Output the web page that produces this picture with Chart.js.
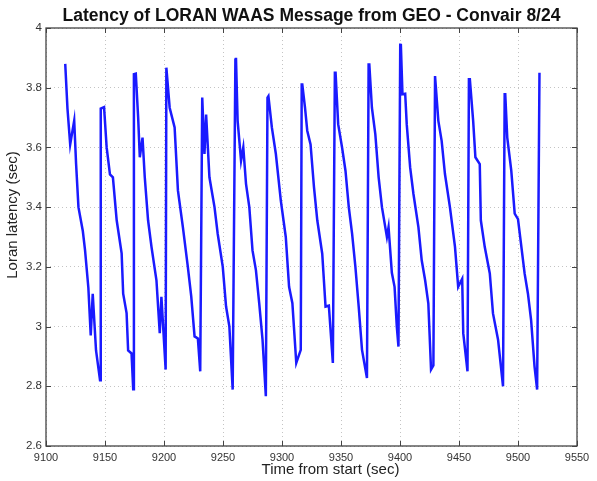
<!DOCTYPE html>
<html>
<head>
<meta charset="utf-8">
<script src="https://cdn.jsdelivr.net/npm/chart.js@4.4.1/dist/chart.umd.min.js"></script>
<style>
  html, body { margin: 0; padding: 0; background: #fff; }
  #wrap { width: 597px; height: 481px; }
</style>
</head>
<body>
<div id="wrap"><canvas id="latencyChart" width="597" height="481"></canvas></div>
<script>
// time from start (sec) and Loran latency (sec)
const times = [
  9116.3, 9118.2, 9120.5, 9123.9, 9125.5, 9127.5, 9131.2, 9133.1, 9135.9, 9137.9, 9139.6, 9142.4, 9145.8,
  9146.4, 9149.2, 9151.4, 9154.2, 9156.7, 9159.9, 9164.1, 9165.4, 9168.3, 9169.6, 9172.5, 9173.9,
  9174.5, 9176.1, 9178.1, 9179.5, 9181.8, 9183.7, 9186.5, 9189.4, 9193.6, 9196.4, 9197.8, 9201.4,
  9202.0, 9202.5, 9204.8, 9209.0, 9211.8, 9216.0, 9220.2, 9223.1, 9225.9, 9228.7, 9230.7,
  9232.4, 9232.9, 9234.3, 9235.7, 9238.5, 9242.8, 9245.5, 9249.8, 9252.6, 9255.4, 9258.2,
  9260.5, 9261.0, 9262.4, 9265.3, 9267.2, 9269.5, 9272.3, 9275.0, 9277.9, 9280.7, 9283.5, 9286.3,
  9287.7, 9288.5, 9291.4, 9294.8, 9299.0, 9303.2, 9306.0, 9308.8, 9312.1, 9315.9,
  9316.7, 9317.2, 9319.5, 9321.4, 9324.2, 9327.1, 9329.9, 9334.1, 9336.9, 9339.7, 9343.1,
  9344.8, 9345.4, 9347.6, 9350.9, 9353.8, 9356.6, 9359.4, 9362.2, 9365.0, 9367.8, 9372.0,
  9373.4, 9374.0, 9376.2, 9379.1, 9381.9, 9384.7, 9388.9, 9390.3, 9393.1, 9395.4, 9397.3, 9398.7,
  9400.2, 9400.7, 9402.1, 9404.4, 9405.7, 9408.6, 9411.4, 9415.6, 9418.4, 9421.3, 9424.0, 9426.3, 9428.3,
  9429.7, 9430.2, 9432.5, 9435.3, 9438.1, 9442.3, 9446.6, 9449.3, 9452.7, 9453.6, 9457.2,
  9458.4, 9459.2, 9462.0, 9463.9, 9467.6, 9468.5, 9471.8, 9476.1, 9478.8, 9483.1, 9487.3,
  9488.7, 9489.2, 9490.9, 9494.3, 9497.2, 9500.0, 9505.6, 9508.4, 9511.1, 9514.0, 9516.2,
  9518.2
];
const latency = [
  3.88, 3.73, 3.61, 3.69, 3.545, 3.40, 3.32, 3.255, 3.13, 2.97, 3.11, 2.92, 2.82,
  3.73, 3.735, 3.60, 3.51, 3.50, 3.356, 3.245, 3.11, 3.045, 2.92, 2.91, 2.79,
  3.845, 3.847, 3.70, 3.567, 3.633, 3.50, 3.356, 3.267, 3.155, 2.978, 3.10, 2.856,
  3.867, 3.867, 3.733, 3.667, 3.456, 3.333, 3.20, 3.10, 2.967, 2.96, 2.85,
  3.767, 3.767, 3.578, 3.71, 3.50, 3.40, 3.311, 3.20, 3.067, 3.00, 2.789,
  3.894, 3.90, 3.689, 3.556, 3.60, 3.478, 3.40, 3.255, 3.189, 3.078, 2.956, 2.767,
  3.767, 3.772, 3.667, 3.578, 3.422, 3.30, 3.133, 3.078, 2.878, 2.922,
  3.811, 3.811, 3.733, 3.656, 3.61, 3.467, 3.356, 3.244, 3.067, 3.07, 2.878,
  3.85, 3.85, 3.678, 3.60, 3.522, 3.40, 3.311, 3.20, 3.067, 2.922, 2.828,
  3.878, 3.878, 3.733, 3.644, 3.50, 3.40, 3.30, 3.333, 3.18, 3.133, 3.00, 2.933,
  3.944, 3.947, 3.778, 3.78, 3.678, 3.533, 3.444, 3.333, 3.222, 3.155, 3.078, 2.856, 2.87,
  3.839, 3.839, 3.689, 3.622, 3.511, 3.40, 3.267, 3.133, 3.16, 2.978, 2.85,
  3.828, 3.828, 3.689, 3.567, 3.544, 3.356, 3.267, 3.178, 3.044, 2.956, 2.80,
  3.778, 3.778, 3.633, 3.522, 3.378, 3.36, 3.178, 3.111, 3.022, 2.867, 2.789,
  3.85
];
const xTicks = [9100, 9150, 9200, 9250, 9300, 9350, 9400, 9450, 9500, 9550];
const yTicks = [2.6, 2.8, 3, 3.2, 3.4, 3.6, 3.8, 4];

const points = times.map((t, i) => ({ x: t, y: latency[i] }));
const FONT = 'Liberation Sans, Arial, Helvetica, sans-serif';

// matlab style box with inward ticks on all four sides, plus title and axis labels
const boxTicks = {
  id: 'boxTicks',
  afterDraw(chart) {
    const { ctx, chartArea: a, scales } = chart;
    const len = 5;
    ctx.save();
    ctx.strokeStyle = '#444';
    ctx.lineWidth = 1;
    ctx.beginPath();
    xTicks.forEach(v => {
      const px = Math.round(scales.x.getPixelForValue(v)) + 0.5;
      ctx.moveTo(px, a.bottom); ctx.lineTo(px, a.bottom - len);
      ctx.moveTo(px, a.top); ctx.lineTo(px, a.top + len);
    });
    yTicks.forEach(v => {
      const py = Math.round(scales.y.getPixelForValue(v)) + 0.5;
      ctx.moveTo(a.left, py); ctx.lineTo(a.left + len, py);
      ctx.moveTo(a.right, py); ctx.lineTo(a.right - len, py);
    });
    ctx.stroke();
    ctx.lineWidth = 1.3;
    ctx.strokeRect(a.left, a.top, a.right - a.left, a.bottom - a.top);

    const cx = (a.left + a.right) / 2;
    ctx.textAlign = 'center';
    ctx.textBaseline = 'middle';
    ctx.fillStyle = '#111';
    ctx.font = 'bold 17.5px ' + FONT;
    ctx.fillText('Latency of LORAN WAAS Message from GEO - Convair 8/24', cx, 16);

    // axis labels (matlab placed them a bit off centre)
    ctx.fillStyle = '#222';
    ctx.font = '15px ' + FONT;
    ctx.fillText('Time from start (sec)', cx + 19, 470);
    ctx.translate(13, (a.top + a.bottom) / 2 - 22);
    ctx.rotate(-Math.PI / 2);
    ctx.fillText('Loran latency (sec)', 0, 0);
    ctx.restore();
  }
};

const ctx = document.getElementById('latencyChart').getContext('2d');
new Chart(ctx, {
  type: 'line',
  data: {
    datasets: [{
      data: points,
      borderColor: '#1a1aff',
      borderWidth: 2.5,
      pointRadius: 0,
      tension: 0,
      fill: false
    }]
  },
  options: {
    responsive: false,
    animation: false,
    layout: { padding: { left: 0, right: 20, top: 28, bottom: 0 } },
    plugins: {
      legend: { display: false },
      tooltip: { enabled: false },
      title: { display: false }
    },
    scales: {
      x: {
        type: 'linear',
        min: 9100,
        max: 9550,
        afterBuildTicks: s => { s.ticks = xTicks.map(v => ({ value: v })); },
        afterFit: s => { s.height = 35; },
        grid: { color: '#c4c4c4', drawTicks: false },
        border: { display: false, dash: [1, 3] },
        ticks: {
          color: '#333',
          padding: 5,
          maxRotation: 0,
          font: { family: FONT, size: 11 },
          callback: v => String(v)
        }
      },
      y: {
        min: 2.6,
        max: 4,
        afterBuildTicks: s => { s.ticks = yTicks.map(v => ({ value: v })); },
        afterFit: s => { s.width = 46; },
        grid: { color: '#c4c4c4', drawTicks: false },
        border: { display: false, dash: [1, 3] },
        ticks: {
          color: '#333',
          padding: 4,
          font: { family: FONT, size: 11.5 },
          callback: v => String(Math.round(v * 10) / 10)
        }
      }
    }
  },
  plugins: [boxTicks]
});
</script>
</body>
</html>
